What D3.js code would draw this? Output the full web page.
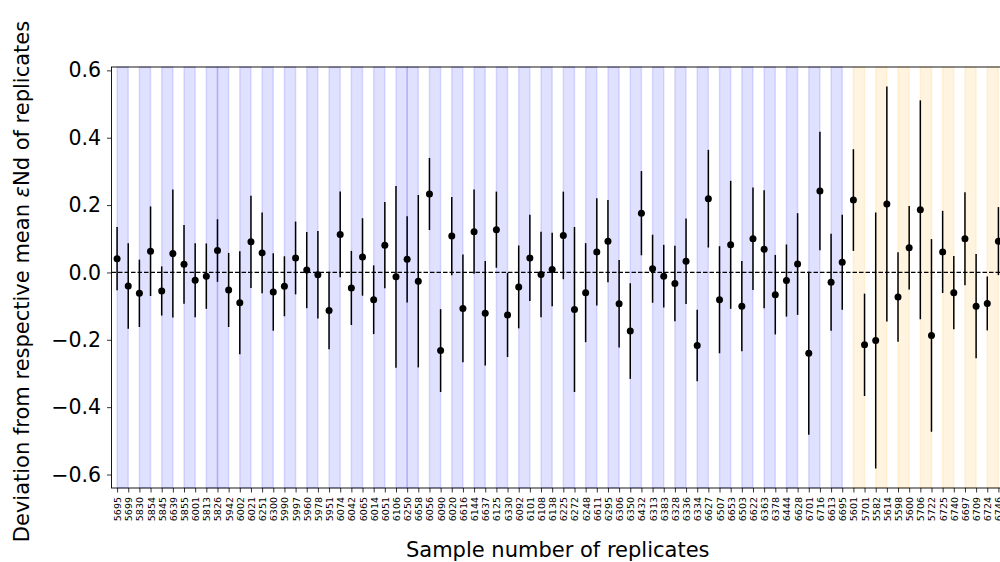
<!DOCTYPE html>
<html>
<head>
<meta charset="utf-8">
<script src="https://cdn.jsdelivr.net/npm/d3@7"></script>
<style>
  html, body { margin: 0; padding: 0; background: #fff; }
  svg { display: block; font-family: "DejaVu Sans", sans-serif; }
</style>
</head>
<body>
<svg id="chart" width="1000" height="562"></svg>
<script>
// Replicate sample numbers, in plotted order
const samples = [
  "5695","5699","5830","5854","5845","6639","5855","6001","5813","5826",
  "5942","6002","6021","6251","6300","5990","5997","5960","5978","5951",
  "6074","6042","6065","6014","6051","6106","6250","6658","6056","6090",
  "6020","6616","6144","6637","6125","6330","6092","6101","6108","6138",
  "6225","6272","6248","6611","6295","6306","6350","6432","6313","6383",
  "6328","6336","6334","6627","6507","6653","6503","6622","6363","6378",
  "6444","6628","6701","6716","6613","6695","5601","5701","5582","5614",
  "5598","5600","5706","5722","6725","6740","6697","6709","6724","6746"
];

// Deviation of each replicate from its group mean (εNd units)
const deviation = [
   0.041,-0.040,-0.062, 0.063,-0.055, 0.056, 0.024,-0.023,-0.011, 0.065,
  -0.052,-0.090, 0.091, 0.058,-0.058,-0.041, 0.043, 0.007,-0.007,-0.113,
   0.113,-0.046, 0.046,-0.081, 0.081,-0.013, 0.039,-0.026, 0.233,-0.232,
   0.108,-0.107, 0.121,-0.121, 0.127,-0.126,-0.043, 0.043,-0.006, 0.009,
   0.110,-0.110,-0.060, 0.061, 0.093,-0.093,-0.174, 0.176, 0.011,-0.011,
  -0.033, 0.033,-0.217, 0.219,-0.081, 0.082,-0.100, 0.100, 0.069,-0.066,
  -0.024, 0.025,-0.240, 0.242,-0.029, 0.030, 0.215,-0.215,-0.202, 0.203,
  -0.073, 0.073, 0.186,-0.187, 0.061,-0.060, 0.100,-0.100,-0.092, 0.093
];

// Half-width of the uncertainty bar for each replicate
const uncertainty = [
  0.094,0.127,0.100,0.133,0.073,0.190,0.117,0.110,0.097,0.093,
  0.110,0.153,0.137,0.120,0.115,0.089,0.108,0.113,0.130,0.115,
  0.127,0.110,0.115,0.102,0.128,0.270,0.128,0.256,0.107,0.123,
  0.116,0.160,0.125,0.155,0.113,0.125,0.123,0.128,0.127,0.109,
  0.130,0.245,0.147,0.159,0.122,0.130,0.142,0.125,0.101,0.093,
  0.112,0.127,0.106,0.145,0.159,0.190,0.134,0.152,0.175,0.118,
  0.107,0.151,0.242,0.176,0.144,0.141,0.151,0.152,0.380,0.349,
  0.133,0.124,0.325,0.286,0.122,0.109,0.138,0.155,0.080,0.101
];

// Replicate groups (first series shaded blue, second series shaded orange)
const groupsBlue = [
  ["5695","5699"],["5830","5854"],["5845","6639"],["5855","6001"],
  ["5813","5826","5942"],["6002","6021"],["6251","6300"],["5990","5997"],
  ["5960","5978"],["5951","6074"],["6042","6065"],["6014","6051"],
  ["6106","6250","6658"],["6056","6090"],["6020","6616"],["6144","6637"],
  ["6125","6330"],["6092","6101"],["6108","6138"],["6225","6272"],
  ["6248","6611"],["6295","6306"],["6350","6432"],["6313","6383"],
  ["6328","6336"],["6334","6627"],["6507","6653"],["6503","6622"],
  ["6363","6378"],["6444","6628"],["6701","6716"],["6613","6695"]
];
const groupsOrange = [
  ["5601","5701"],["5582","5614"],["5598","5600"],["5706","5722"],
  ["6725","6740"],["6697","6709"],["6724","6746"]
];

const yTicks = [-0.6, -0.4, -0.2, 0.0, 0.2, 0.4, 0.6];

const svg = d3.select("#chart");
const plotL = 111.5, plotR = 1004, plotT = 67, plotB = 488;

const x = d3.scalePoint().domain(samples).range([plotL, plotR]).padding(0.5);
const y = d3.scaleLinear().domain([-0.64, 0.61]).range([plotB, plotT]);

// Shaded spans linking consecutive replicates of a group
function spans(groups, color) {
  const segs = [];
  groups.forEach(g => { for (let k = 0; k < g.length - 1; k++) segs.push([g[k], g[k + 1]]); });
  svg.append("g").selectAll("rect").data(segs).join("rect")
    .attr("x", d => x(d[0]))
    .attr("width", d => x(d[1]) - x(d[0]))
    .attr("y", plotT)
    .attr("height", plotB - plotT)
    .attr("fill", color).attr("fill-opacity", 0.12)
    .attr("stroke", color).attr("stroke-opacity", 0.12).attr("stroke-width", 1.5);
}
spans(groupsBlue, "#0000ff");
spans(groupsOrange, "#ffa500");

// Zero reference line
svg.append("line")
  .attr("x1", plotL).attr("x2", plotR)
  .attr("y1", y(0)).attr("y2", y(0))
  .attr("stroke", "#000").attr("stroke-width", 1.3)
  .attr("stroke-dasharray", "4.5,2");

const pts = samples.map((s, i) => ({ s, v: deviation[i], e: uncertainty[i] }));

// Uncertainty bars
svg.append("g").selectAll("line").data(pts).join("line")
  .attr("x1", d => x(d.s)).attr("x2", d => x(d.s))
  .attr("y1", d => y(d.v - d.e)).attr("y2", d => y(d.v + d.e))
  .attr("stroke", "#000").attr("stroke-width", 1.5);

// Deviation markers
svg.append("g").selectAll("circle").data(pts).join("circle")
  .attr("cx", d => x(d.s)).attr("cy", d => y(d.v))
  .attr("r", 3.5).attr("fill", "#000");

// Axes
const yAxis = d3.axisLeft(y).tickValues(yTicks)
  .tickFormat(d => d3.format(".1f")(d).replace("-", "\u2212"))
  .tickSize(4.5).tickPadding(6);
const gy = svg.append("g").attr("transform", `translate(${plotL},0)`).call(yAxis);
gy.select(".domain").remove();
gy.selectAll("text").attr("font-size", 20.5).attr("fill", "#000")
  .attr("font-family", "DejaVu Sans, sans-serif");
gy.selectAll("line").attr("stroke", "#000").attr("stroke-width", 0.8);

const xAxis = d3.axisBottom(x).tickSize(4.5).tickPadding(0);
const gx = svg.append("g").attr("transform", `translate(0,${plotB})`).call(xAxis);
gx.select(".domain").remove();
gx.selectAll("line").attr("stroke", "#000").attr("stroke-width", 0.8);
gx.selectAll("text")
  .attr("font-size", 9.5).attr("fill", "#000")
  .attr("font-family", "DejaVu Sans, sans-serif")
  .attr("text-anchor", "end")
  .attr("dy", null)
  .attr("transform", "translate(0,9) rotate(-90)")
  .attr("x", 0).attr("y", 0)
  .attr("dominant-baseline", "central");

// Frame
svg.append("rect")
  .attr("x", plotL).attr("y", plotT)
  .attr("width", plotR - plotL).attr("height", plotB - plotT)
  .attr("fill", "none").attr("stroke", "#000").attr("stroke-width", 0.9);

// Axis titles
svg.append("text")
  .attr("x", (plotL + plotR) / 2).attr("y", 557)
  .attr("text-anchor", "middle").attr("font-size", 21).attr("fill", "#000")
  .text("Sample number of replicates");

const yl = svg.append("text")
  .attr("transform", `translate(29,${(plotT + plotB) / 2 + 4}) rotate(-90)`)
  .attr("text-anchor", "middle").attr("font-size", 21).attr("fill", "#000");
yl.append("tspan").text("Deviation from respective mean ");
yl.append("tspan").attr("font-style", "italic").text("\u03b5");
yl.append("tspan").text("Nd of replicates");
</script>
</body>
</html>
